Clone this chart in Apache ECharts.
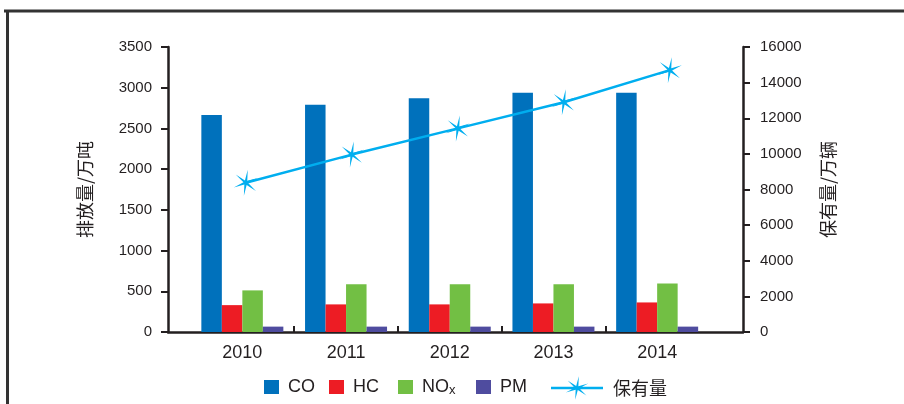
<!DOCTYPE html>
<html>
<head>
<meta charset="utf-8">
<script src="https://cdn.jsdelivr.net/npm/echarts@6/dist/echarts.min.js"></script>
<style>
html,body{margin:0;padding:0;background:#fff;}
#chart{width:904px;height:404px;}
</style>
</head>
<body>
<div id="chart"></div>
<script>
const years = ['2010', '2011', '2012', '2013', '2014'];
const coValues = [2666, 2790, 2872, 2937, 2937];
const hcValues = [330, 339, 339, 351, 363];
const noxValues = [511, 585, 585, 585, 597];
const pmValues = [66, 66, 66, 66, 66];
const fleetValues = [8380, 9960, 11430, 12900, 14700];

const emissionAxis = { min: 0, max: 3500, interval: 500, name: '排放量/万吨' };
const fleetAxis = { min: 0, max: 16000, interval: 2000, name: '保有量/万辆' };

const DARK = '#231f20';
const CYAN = '#00aeef';
const FONT = '"Liberation Sans", Arial, "Noto Sans CJK SC", sans-serif';
const CJK = '"Noto Sans CJK SC", "Liberation Sans", sans-serif';

function starPoints(cx, cy, n, R, r) {
  const pts = [];
  for (let i = 0; i < 2 * n; i++) {
    const a = -Math.PI / 2 + i * Math.PI / n + 0.15;
    const rad = i % 2 ? r : R;
    pts.push((cx + rad * Math.cos(a)).toFixed(2) + ' ' + (cy + rad * Math.sin(a)).toFixed(2));
  }
  return 'M' + pts.join(' L') + ' Z';
}
const STAR = 'path://' + starPoints(0, 0, 6, 12, 2.2);
// legend icon: line with star in the middle (box 52 x 24)
const LEGEND_LINE_ICON = 'path://M0 10.75 L52 10.75 L52 13.25 L0 13.25 Z ' + starPoints(26, 12, 6, 12, 2.2) +
  ' M0 0 L0.01 0 L0.01 0.01 Z M52 24 L51.99 24 L51.99 23.99 Z';

function plain(v) { return String(v); }

const chart = echarts.init(document.getElementById('chart'), null, { renderer: 'canvas' });

const gTop = 47, gBottom = 72;
const axisLineStyle = { color: DARK, width: 2.5 };

const option = {
  animation: false,
  backgroundColor: '#ffffff',
  textStyle: { fontFamily: FONT, color: DARK },
  graphic: [
    { type: 'line', shape: { x1: 4, y1: 11, x2: 904, y2: 11 }, style: { stroke: '#333', lineWidth: 3 }, silent: true },
    { type: 'line', shape: { x1: 7.5, y1: 10, x2: 7.5, y2: 404 }, style: { stroke: '#333', lineWidth: 3 }, silent: true }
  ],
  grid: [
    { left: 168, right: 161, top: gTop, bottom: gBottom },
    { left: 190.5, right: 195, top: gTop, bottom: gBottom },
    { left: 192.8, right: 181.2, top: gTop, bottom: gBottom },
    { left: 294.2, right: 298.7, top: gTop, bottom: gBottom }
  ],
  xAxis: [
    { gridIndex: 0, type: 'value', min: 0, max: 1, axisLine: { show: true, lineStyle: axisLineStyle },
      axisTick: { show: false }, axisLabel: { show: false }, splitLine: { show: false } },
    { gridIndex: 1, type: 'category', data: years, axisLine: { show: false }, axisTick: { show: false },
      axisLabel: { fontSize: 18, color: DARK, margin: 12, fontFamily: FONT }, splitLine: { show: false } },
    { gridIndex: 2, type: 'category', data: years, show: false },
    { gridIndex: 3, type: 'value', min: 1, max: 4, interval: 1, axisLine: { show: false },
      axisTick: { show: true, inside: true, length: 6, lineStyle: { color: DARK, width: 2 } },
      axisLabel: { show: false }, splitLine: { show: false } }
  ],
  yAxis: [
    { gridIndex: 0, type: 'value', position: 'left', min: emissionAxis.min, max: emissionAxis.max, interval: emissionAxis.interval,
      name: emissionAxis.name, nameLocation: 'middle', nameGap: 74, nameRotate: 90,
      nameTextStyle: { fontSize: 18, color: DARK, fontFamily: CJK },
      axisLine: { show: true, lineStyle: axisLineStyle },
      axisTick: { show: true, length: 7, lineStyle: { color: DARK, width: 2 } },
      axisLabel: { fontSize: 15, color: DARK, margin: 16, fontFamily: FONT, formatter: plain },
      splitLine: { show: false } },
    { gridIndex: 0, type: 'value', position: 'right', min: fleetAxis.min, max: fleetAxis.max, interval: fleetAxis.interval,
      name: fleetAxis.name, nameLocation: 'middle', nameGap: 76, nameRotate: 90,
      nameTextStyle: { fontSize: 18, color: DARK, fontFamily: CJK },
      axisLine: { show: true, lineStyle: axisLineStyle },
      axisTick: { show: true, length: 7, lineStyle: { color: DARK, width: 2 } },
      axisLabel: { fontSize: 15, color: DARK, margin: 17, fontFamily: FONT, formatter: plain },
      splitLine: { show: false } },
    { gridIndex: 1, type: 'value', min: emissionAxis.min, max: emissionAxis.max, show: false },
    { gridIndex: 2, type: 'value', min: fleetAxis.min, max: fleetAxis.max, show: false },
    { gridIndex: 3, type: 'value', min: 0, max: 1, show: false }
  ],
  legend: [
    { data: ['CO'], left: 259, top: 373 },
    { data: ['HC'], left: 324, top: 373 },
    { data: ['NOx'], left: 393, top: 373 },
    { data: ['PM'], left: 471, top: 373 },
    { data: [{ name: '保有量', icon: LEGEND_LINE_ICON, itemStyle: { color: CYAN } }], left: 546, top: 371, itemWidth: 52, itemHeight: 24,
      textStyle: { fontSize: 18, color: DARK, fontFamily: CJK, padding: [0, 0, 0, 5] } }
  ].map(function (l) {
    return Object.assign({
      icon: 'rect',
      itemWidth: 15, itemHeight: 14, itemGap: 0,
      textStyle: {
        fontSize: 18, color: DARK, fontFamily: FONT, padding: [0, 0, 0, 4],
        rich: { a: { fontSize: 18, color: DARK, fontFamily: FONT }, b: { fontSize: 13, color: DARK, fontFamily: FONT, padding: [6, 0, 0, 0] } }
      },
      formatter: function (name) { return name === 'NOx' ? '{a|NO}{b|x}' : name; },
      selectedMode: false
    }, l);
  }),
  series: [
    { name: 'CO', type: 'bar', xAxisIndex: 1, yAxisIndex: 2, data: coValues, barWidth: 20.5, barGap: '0%', itemStyle: { color: '#0071bc' } },
    { name: 'HC', type: 'bar', xAxisIndex: 1, yAxisIndex: 2, data: hcValues, barWidth: 20.5, barGap: '0%', itemStyle: { color: '#ed1c24' } },
    { name: 'NOx', type: 'bar', xAxisIndex: 1, yAxisIndex: 2, data: noxValues, barWidth: 20.5, barGap: '0%', itemStyle: { color: '#72bf44' } },
    { name: 'PM', type: 'bar', xAxisIndex: 1, yAxisIndex: 2, data: pmValues, barWidth: 20.5, barGap: '0%', itemStyle: { color: '#4f4c9f' } },
    { name: '保有量', type: 'line', xAxisIndex: 2, yAxisIndex: 3, data: fleetValues, z: 5,
      symbol: STAR, symbolSize: [24, 26], showAllSymbol: true,
      lineStyle: { color: CYAN, width: 2.5 }, itemStyle: { color: CYAN } }
  ]
};
chart.setOption(option);
</script>
</body>
</html>
